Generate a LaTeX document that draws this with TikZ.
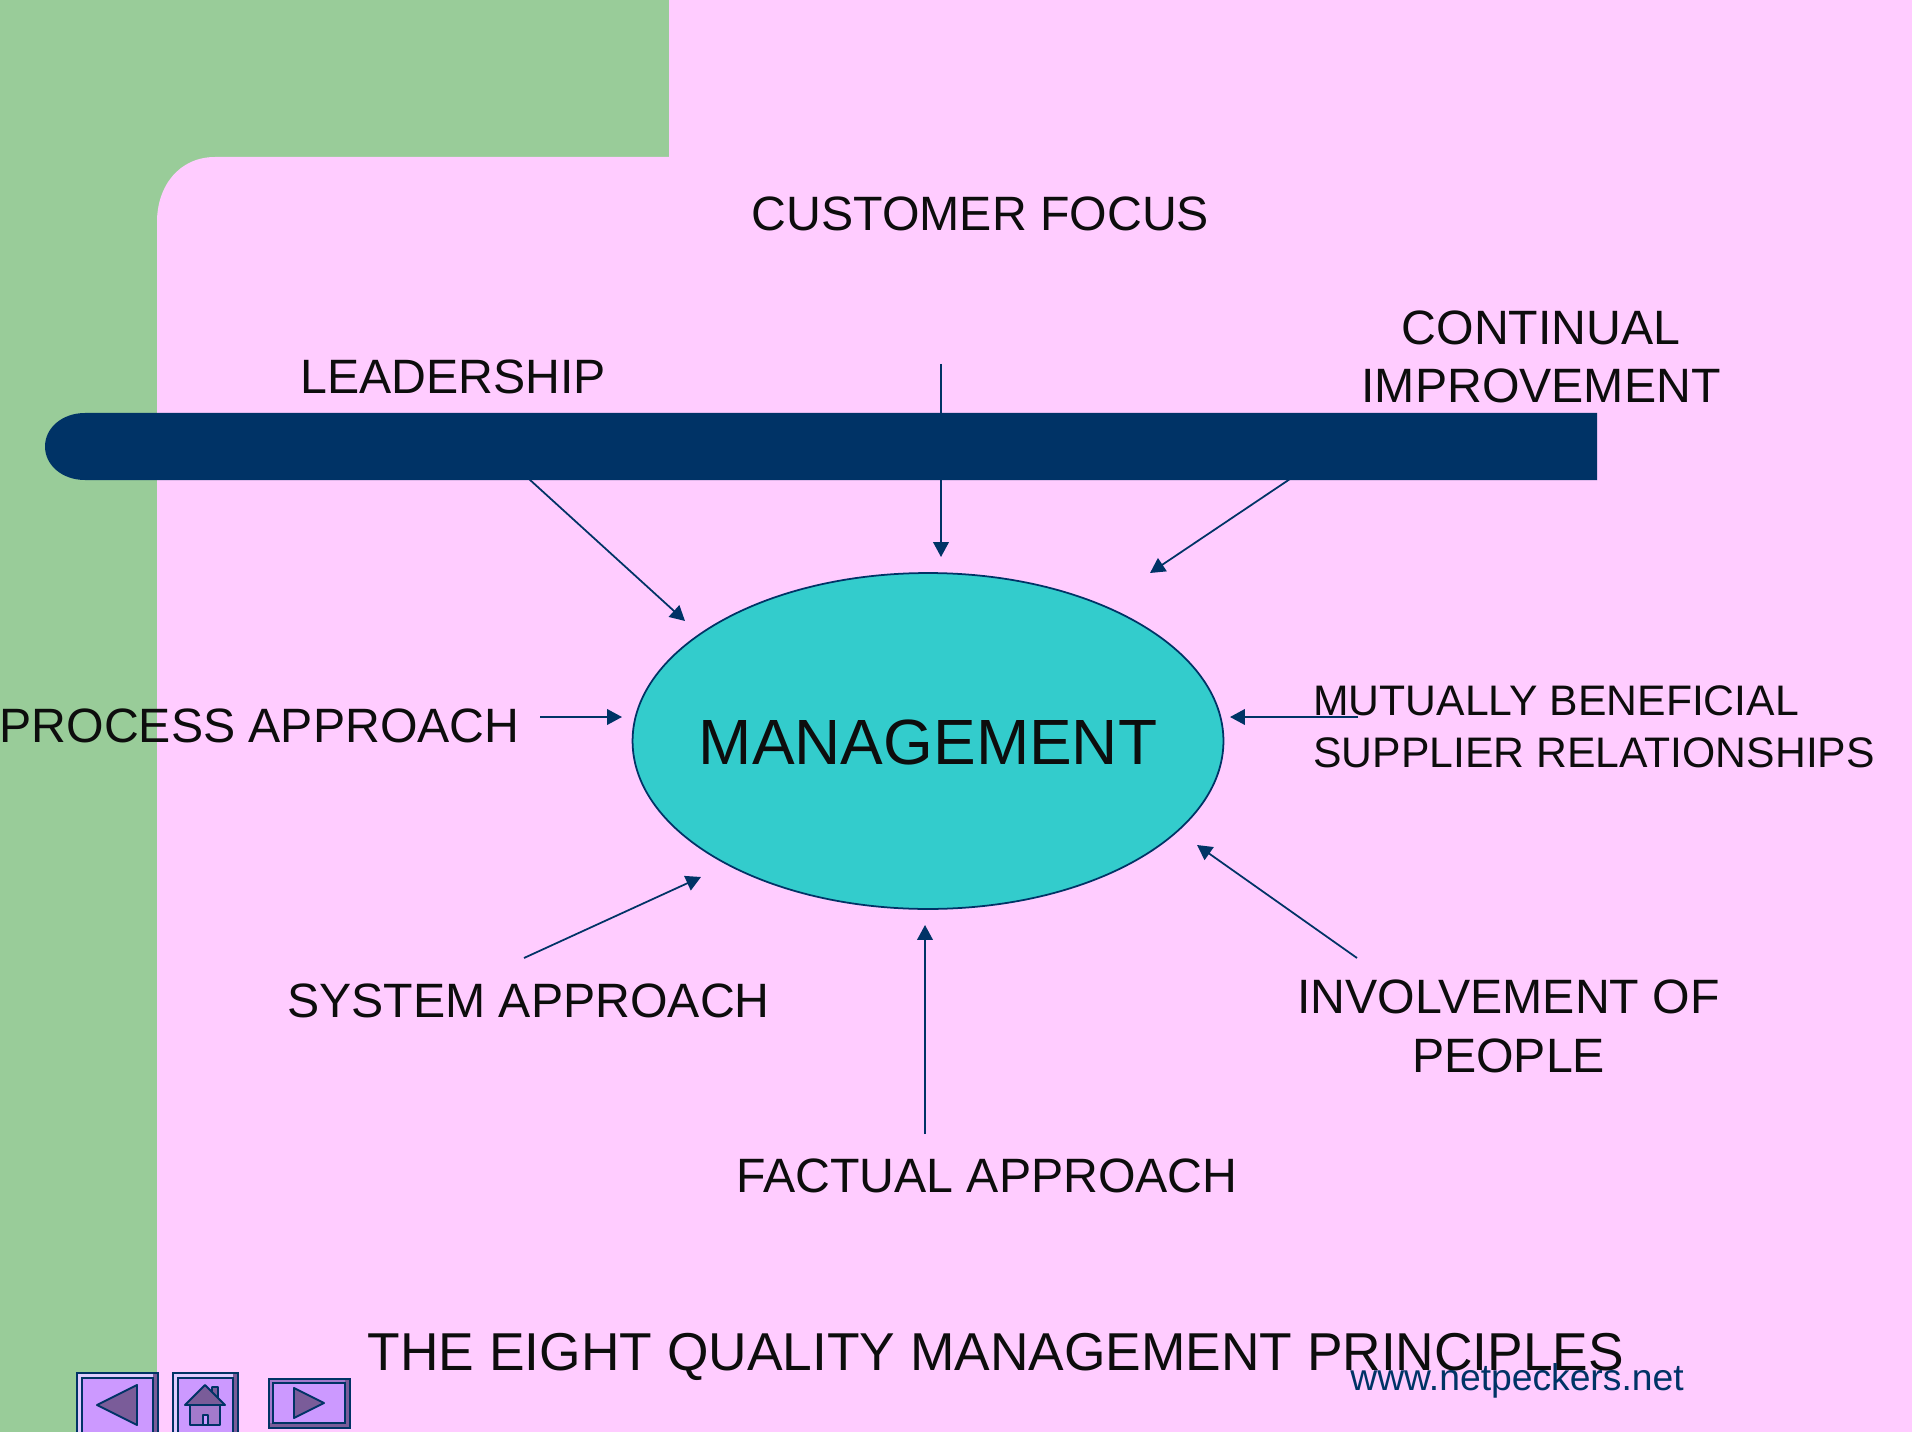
\documentclass[tikz,border=0pt]{standalone}
\usepackage{fontspec}
\setmainfont{Liberation Sans}
\usetikzlibrary{arrows.meta,shapes.geometric}
\definecolor{navy}{HTML}{003366}
\definecolor{pinkbg}{HTML}{FFCCFF}
\definecolor{greenbg}{HTML}{99CC99}
\definecolor{tealfill}{HTML}{33CCCC}
\definecolor{txt}{HTML}{0D0D0D}
\definecolor{btn}{HTML}{CC99FF}
\definecolor{btndark}{HTML}{7A5C99}
\definecolor{btnlight}{HTML}{E0CCFF}
\definecolor{btnmid}{HTML}{A37ACC}
\tikzset{
  lab/.style={text=txt,inner sep=0pt,font=\fontsize{27.45pt}{33.2pt}\selectfont,align=center},
  labsmall/.style={text=txt,inner sep=0pt,font=\fontsize{24.3pt}{29.8pt}\selectfont,align=left},
  conn/.style={draw=navy,line width=1pt,-{Triangle[length=8.5pt,width=8.9pt]}},
  btnface/.style={fill=btn,draw=navy,line width=1.1pt},
  bevel/.style={draw=navy,line width=0.7pt},
  icon/.style={fill=btndark,draw=navy,line width=1.1pt,line join=round}
}
\begin{document}
\begin{tikzpicture}[x=0.02cm,y=-0.02cm]
\useasboundingbox (0,0) rectangle (1912,1432);
\fill[greenbg] (0,0) rectangle (1912,1432);
\fill[pinkbg] (669,0) -- (1912,0) -- (1912,1432) -- (157,1432) -- (157,222)
  .. controls (157,185) and (180,157) .. (215,157) -- (669,157) -- cycle;

% free ends of connectors
\coordinate (cfA) at (941,364);   \coordinate (cfB) at (941,557);
\coordinate (ldA) at (529,479);   \coordinate (ldB) at (685,621);
\coordinate (ciA) at (1290,479);  \coordinate (ciB) at (1150,573);
\coordinate (paA) at (540,717);   \coordinate (paB) at (622,717);
\coordinate (msA) at (1358,717);  \coordinate (msB) at (1230,717);
\coordinate (saA) at (524,958);   \coordinate (saB) at (701,877);
\coordinate (faA) at (925,1134);  \coordinate (faB) at (925,925);
\coordinate (ipA) at (1357,958);  \coordinate (ipB) at (1197,845);

\draw[conn] (cfA) -- (cfB);

\fill[navy] (1597,413) -- (85,413) .. controls (62,413) and (45,428) .. (45,446.5)
  .. controls (45,465) and (62,480) .. (85,480) -- (1597,480) -- cycle;

\node[ellipse,draw=navy,line width=1pt,fill=tealfill,minimum width=11.82cm,minimum height=6.72cm,inner sep=0pt] (mgmt) at (928,741) {};
\node[inner sep=0pt,font=\fontsize{36.4pt}{43pt}\selectfont,text=txt] (mgmttext) at (928,742) {MANAGEMENT};

\draw[conn] (ldA) -- (ldB);
\draw[conn] (ciA) -- (ciB);
\draw[conn] (paA) -- (paB);
\draw[conn] (msA) -- (msB);
\draw[conn] (saA) -- (saB);
\draw[conn] (faA) -- (faB);
\draw[conn] (ipA) -- (ipB);

\node[lab] (cf) at (980.5,213.5) {CUSTOMER FOCUS};
\node[lab] (ci) at (1541,357) {CONTINUAL\\IMPROVEMENT};
\node[lab] (ld) at (453,377) {LEADERSHIP};
\node[lab] (pa) at (259.5,725.5) {PROCESS APPROACH};
\node[labsmall,anchor=west] (ms) at (1313,726.5) {MUTUALLY BENEFICIAL\\SUPPLIER RELATIONSHIPS};
\node[lab] (sa) at (528.5,1000.5) {SYSTEM APPROACH};
\node[lab] (ip) at (1508.5,1026.5) {INVOLVEMENT OF\\PEOPLE};
\node[lab] (fa) at (987,1176) {FACTUAL APPROACH};
\node[text=txt,inner sep=0pt,font=\fontsize{30.35pt}{36pt}\selectfont] (title) at (996,1357) {THE EIGHT QUALITY MANAGEMENT PRINCIPLES};
\node[text=navy,inner sep=0pt,font=\fontsize{21.2pt}{25pt}\selectfont] (www) at (1517,1381) {www.netpeckers.net};

% navigation buttons
% back
\fill[btnlight] (77,1373) rectangle (158,1440);
\fill[btndark] (153,1373) rectangle (158,1440);
\draw[bevel] (77,1373) rectangle (158,1440);
\draw[btnface] (82,1378) rectangle (153,1440);
\draw[icon] (97,1405) -- (137,1385) -- (137,1425) -- cycle;
% home
\fill[btnlight] (173,1373) rectangle (238,1440);
\fill[btndark] (233,1373) rectangle (238,1440);
\draw[bevel] (173,1373) rectangle (238,1440);
\draw[btnface] (178,1378) rectangle (233,1440);
\draw[icon,fill=btnmid] (190,1405) rectangle (220,1425);
\draw[icon] (212,1397) -- (212,1387) -- (218,1387) -- (218,1403) -- cycle;
\draw[icon] (205,1385) -- (225,1405) -- (185,1405) -- cycle;
\draw[icon,fill=btn] (203,1425) -- (203,1415) -- (208,1415) -- (208,1425) -- cycle;
% forward
\fill[btnmid] (269,1379) rectangle (350,1428);
\fill[btndark] (269,1423) rectangle (350,1428);
\fill[btndark] (345,1379) rectangle (350,1428);
\draw[bevel] (269,1379) rectangle (350,1428);
\draw[btnface] (273,1383) rectangle (345,1423);
\draw[icon] (294,1388) -- (324,1403) -- (294,1418) -- cycle;
\end{tikzpicture}
\end{document}
